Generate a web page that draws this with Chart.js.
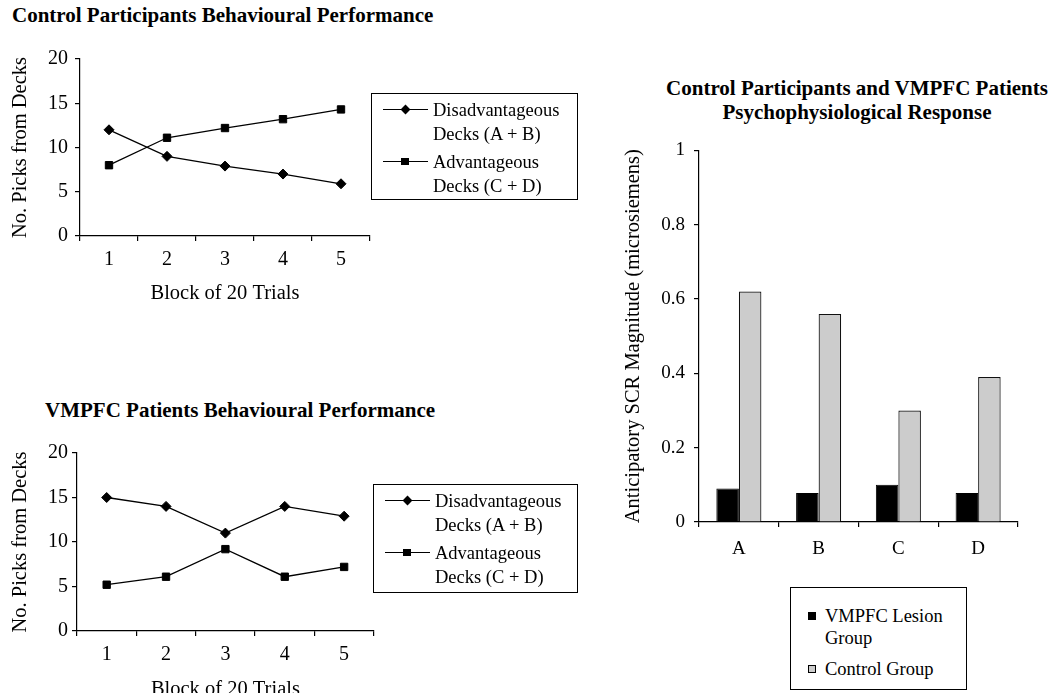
<!DOCTYPE html>
<html><head><meta charset="utf-8">
<script src="https://cdn.jsdelivr.net/npm/chart.js@4.4.1/dist/chart.umd.min.js"></script>
<style>
html,body{margin:0;padding:0;background:#fff;overflow:hidden;width:1057px;height:693px;}
body{position:relative;font-family:'Liberation Serif','Times New Roman',Times,serif;color:#000;}
.title{position:absolute;font-weight:bold;font-size:21px;line-height:24px;white-space:nowrap;}
canvas{position:absolute;}
.legend{position:absolute;border:1.5px solid #000;box-sizing:border-box;font-size:18.5px;}
.entry{position:absolute;white-space:nowrap;}
.sw{position:absolute;}
</style></head><body>
<div class="title" style="left:12px;top:3px;">Control Participants Behavioural Performance</div>
<div class="title" style="left:45px;top:398px;">VMPFC Patients Behavioural Performance</div>
<div class="title" style="left:657px;top:76px;width:400px;text-align:center;line-height:24.4px;">Control Participants and VMPFC Patients<br>Psychophysiological Response</div>
<canvas id="c1" width="380" height="266" style="left:0px;top:40px;width:380px;height:266px"></canvas>
<canvas id="c2" width="380" height="302" style="left:0px;top:400px;width:380px;height:302px"></canvas>
<canvas id="c3" width="447" height="440" style="left:610px;top:130px;width:447px;height:440px"></canvas>
<script>
// ---- data ----
const blocks = ['1', '2', '3', '4', '5'];
const controlDisadvantageous = [12, 9, 7.9, 7, 5.9];
const controlAdvantageous = [8, 11.1, 12.2, 13.2, 14.3];
const vmpfcDisadvantageous = [15, 14, 11, 14, 12.9];
const vmpfcAdvantageous = [5.2, 6.1, 9.2, 6.1, 7.2];
const picksTicks = [0, 5, 10, 15, 20];

const decks = ['A', 'B', 'C', 'D'];
const lesionSCR = [0.09, 0.078, 0.10, 0.078];
const controlSCR = [0.62, 0.56, 0.30, 0.39];
const scrTicks = [0, 0.2, 0.4, 0.6, 0.8, 1];

const lineSeriesNames = [['Disadvantageous', 'Decks (A + B)'], ['Advantageous', 'Decks (C + D)']];
const barSeriesNames = [['VMPFC Lesion', 'Group'], ['Control Group']];
const picksAxisTitle = 'No. Picks from Decks';
const blockAxisTitle = 'Block of 20 Trials';
const scrAxisTitle = 'Anticipatory SCR Magnitude (microsiemens)';

Chart.defaults.font.family = "'Liberation Serif','Times New Roman',Times,serif";
Chart.defaults.color = '#000';

const plainNum = v => String(+Number(v).toFixed(2));

function lineChart(id, dis, adv, L) {
  return new Chart(document.getElementById(id), {
    type: 'line',
    data: {
      labels: blocks,
      datasets: [
        { label: lineSeriesNames[0].join(' '), data: dis, borderColor: '#000', backgroundColor: '#000',
          borderWidth: 1.3, pointStyle: 'rectRot', pointRadius: 5, pointBorderWidth: 1, tension: 0 },
        { label: lineSeriesNames[1].join(' '), data: adv, borderColor: '#000', backgroundColor: '#000',
          borderWidth: 1.3, pointStyle: 'rect', pointRadius: 5.2, pointBorderWidth: 1, tension: 0 }
      ]
    },
    options: {
      responsive: false, animation: false,
      layout: { padding: { top: L.padTop, right: L.padRight, left: 0, bottom: 0 } },
      plugins: { legend: { display: false }, tooltip: { enabled: false } },
      scales: {
        x: {
          type: 'category', offset: true,
          grid: { offset: true, drawOnChartArea: false, tickLength: 5, color: '#000', lineWidth: 1.2 },
          border: { display: true, color: '#000', width: 1.2 },
          ticks: { font: { size: 20 }, padding: L.xTickPad, maxRotation: 0 },
          title: { display: true, text: blockAxisTitle, font: { size: 20.5 }, padding: { top: 0, bottom: 0 } },
          afterFit: s => { s.height = L.xHeight; }
        },
        y: {
          min: picksTicks[0], max: picksTicks[picksTicks.length - 1],
          grid: { drawOnChartArea: false, tickLength: 5, color: '#000', lineWidth: 1.2 },
          border: { display: true, color: '#000', width: 1.2 },
          ticks: { stepSize: picksTicks[1] - picksTicks[0], font: { size: 20 }, padding: L.yTickPad, callback: plainNum },
          title: { display: true, text: picksAxisTitle, font: { size: 20.5 }, padding: { top: L.yTitlePad, bottom: 0 } },
          afterFit: s => { s.width = L.yWidth; }
        }
      }
    }
  });
}

lineChart('c1', controlDisadvantageous, controlAdvantageous,
  { padTop: 19, padRight: 10, yWidth: 80, xHeight: 70, yTitlePad: 8, yTickPad: 7, xTickPad: 7 });
lineChart('c2', vmpfcDisadvantageous, vmpfcAdvantageous,
  { padTop: 53, padRight: 0, yWidth: 77, xHeight: 71, yTitlePad: 8, yTickPad: 4, xTickPad: 7 });

new Chart(document.getElementById('c3'), {
  type: 'bar',
  data: {
    labels: decks,
    datasets: [
      { label: barSeriesNames[0].join(' '), data: lesionSCR, backgroundColor: '#000', borderColor: '#000', borderWidth: 1 },
      { label: barSeriesNames[1].join(' '), data: controlSCR, backgroundColor: '#cccccc', borderColor: '#111', borderWidth: 1.2 }
    ]
  },
  options: {
    responsive: false, animation: false,
    layout: { padding: { top: 12, right: 39, left: 0, bottom: 0 } },
    plugins: { legend: { display: false }, tooltip: { enabled: false } },
    datasets: { bar: { categoryPercentage: 0.565, barPercentage: 1 } },
    scales: {
      x: {
        grid: { offset: true, drawOnChartArea: false, tickLength: 5, color: '#000', lineWidth: 1.2 },
        border: { display: true, color: '#000', width: 1.2 },
        ticks: { font: { size: 19 }, padding: 11 },
        afterFit: s => { s.height = 48; }
      },
      y: {
        min: scrTicks[0], max: scrTicks[scrTicks.length - 1],
        grid: { drawOnChartArea: false, tickLength: 5, color: '#000', lineWidth: 1.2 },
        border: { display: true, color: '#000', width: 1.2 },
        ticks: { stepSize: scrTicks[1] - scrTicks[0], font: { size: 19 }, padding: 9, callback: plainNum },
        title: { display: true, text: scrAxisTitle, font: { size: 20.5 }, padding: { top: 11.7, bottom: 0 } },
        afterFit: s => { s.width = 89; }
      }
    }
  }
});

// ---- legends (HTML) ----
function makeLegend(box, entries, lineH, textX) {
  const lg = document.createElement('div');
  lg.className = 'legend';
  Object.assign(lg.style, { left: box.left + 'px', top: box.top + 'px', width: box.w + 'px', height: box.h + 'px' });
  entries.forEach(e => {
    const t = document.createElement('div');
    t.className = 'entry';
    t.style.left = textX + 'px'; t.style.top = e.top + 'px'; t.style.lineHeight = lineH + 'px';
    t.innerHTML = e.lines.join('<br>');
    lg.appendChild(t);
    const cy = e.top + lineH / 2;
    if (e.kind === 'line') {
      const ln = document.createElement('div'); ln.className = 'sw';
      Object.assign(ln.style, { left: '11px', top: (cy - 0.65) + 'px', width: '45px', height: '1.3px', background: '#000' });
      lg.appendChild(ln);
      const mk = document.createElement('div'); mk.className = 'sw';
      if (e.marker === 'diamond') {
        Object.assign(mk.style, { left: (33 - 3.5) + 'px', top: (cy - 3.5) + 'px', width: '7px', height: '7px', background: '#000', transform: 'rotate(45deg)' });
      } else {
        Object.assign(mk.style, { left: (33 - 3.7) + 'px', top: (cy - 3.7) + 'px', width: '7.4px', height: '7.4px', background: '#000' });
      }
      lg.appendChild(mk);
    } else {
      const sq = document.createElement('div'); sq.className = 'sw';
      Object.assign(sq.style, { left: '17px', top: (cy - 4) + 'px', width: '8px', height: '8px', background: e.fill, border: '1px solid #000', boxSizing: 'border-box' });
      lg.appendChild(sq);
    }
  });
  document.body.appendChild(lg);
}

makeLegend({ left: 371, top: 93, w: 207, h: 107 }, [
  { top: 3.5, lines: lineSeriesNames[0], kind: 'line', marker: 'diamond' },
  { top: 55.5, lines: lineSeriesNames[1], kind: 'line', marker: 'square' }
], 24, 61);
makeLegend({ left: 373, top: 484, w: 205, h: 109 }, [
  { top: 3.5, lines: lineSeriesNames[0], kind: 'line', marker: 'diamond' },
  { top: 55.5, lines: lineSeriesNames[1], kind: 'line', marker: 'square' }
], 24, 61);
makeLegend({ left: 790, top: 587, w: 177, h: 103 }, [
  { top: 16.5, lines: barSeriesNames[0], kind: 'box', fill: '#000' },
  { top: 69.5, lines: barSeriesNames[1], kind: 'box', fill: '#cccccc' }
], 22, 34);
</script>
</body></html>
